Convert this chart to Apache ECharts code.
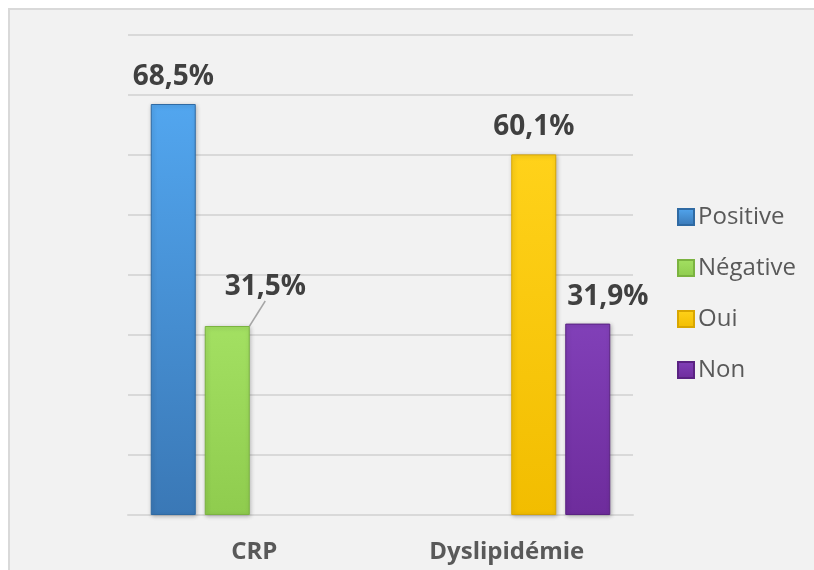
<!DOCTYPE html>
<html>
<head>
<meta charset="utf-8">
<script src="https://cdn.jsdelivr.net/npm/echarts@6/dist/echarts.min.js"></script>
<style>
  html, body { margin: 0; padding: 0; background: #ffffff; }
  #chart { width: 814px; height: 570px; }
</style>
</head>
<body>
<div id="chart"></div>
<script>
// Categories and series values (percentages)
const categories = ['CRP', 'Dyslipidémie'];
const seriesNames = ['Positive', 'Négative', 'Oui', 'Non'];
const positiveValues = [68.5, null];
const negativeValues = [31.5, null];
const ouiValues = [null, 60.1];
const nonValues = [null, 31.9];

const fmt = v => String(v.value).replace('.', ',') + '%';

function grad(top, bottom) {
  return new echarts.graphic.LinearGradient(0, 0, 0, 1, [
    { offset: 0, color: top },
    { offset: 1, color: bottom }
  ]);
}

const labelStyle = {
  show: true,
  position: 'top',
  distance: 13,
  formatter: fmt,
  fontFamily: 'Open Sans',
  fontWeight: 'bold',
  fontSize: 28,
  color: '#404040'
};

function barSeries(name, data, top, bottom, border, extra) {
  return Object.assign({
    name: name,
    type: 'bar',
    data: data,
    barWidth: 45,
    barGap: '20%',
    itemStyle: {
      color: grad(top, bottom),
      borderColor: border,
      borderWidth: 1,
      shadowColor: 'rgba(0,0,0,0.25)',
      shadowBlur: 4,
      shadowOffsetX: 1,
      shadowOffsetY: 1
    },
    label: Object.assign({}, labelStyle)
  }, extra || {});
}

const chart = echarts.init(document.getElementById('chart'), null, { renderer: 'canvas' });

chart.setOption({
  backgroundColor: '#ffffff',
  animation: false,
  graphic: [{
    type: 'rect',
    z: -10,
    silent: true,
    shape: { x: 9, y: 9, width: 830, height: 580 },
    style: { fill: '#f2f2f2', stroke: '#d9d9d9', lineWidth: 2 }
  }],
  grid: { left: 128, right: 181, top: 35, bottom: 55 },
  legend: {
    orient: 'vertical',
    left: 672,
    top: 200,
    itemWidth: 16,
    itemHeight: 16,
    itemGap: 27,
    icon: 'rect',
    textStyle: { fontFamily: 'Open Sans', fontSize: 24, color: '#595959', padding: [0, 0, 0, -1] },
    data: seriesNames
  },
  xAxis: {
    type: 'category',
    data: categories,
    axisLine: { show: true, lineStyle: { color: '#d9d9d9', width: 2 } },
    axisTick: { show: false },
    axisLabel: {
      margin: 25,
      fontFamily: 'Open Sans',
      fontWeight: 'bold',
      fontSize: 24,
      color: '#595959'
    }
  },
  yAxis: {
    type: 'value',
    min: 0,
    max: 80,
    interval: 10,
    axisLabel: { show: false },
    axisLine: { show: false },
    axisTick: { show: false },
    splitLine: { lineStyle: { color: '#d9d9d9', width: 2 } }
  },
  series: [
    barSeries('Positive', positiveValues, '#52a6ef', '#3a78b6', '#2f6aa3'),
    barSeries('Négative', negativeValues, '#a3e062', '#8fcc4e', '#7bb340', {
      labelLayout: { dx: 38, dy: -12 },
      labelLine: { show: true, lineStyle: { color: '#a6a6a6', width: 1.5 } }
    }),
    barSeries('Oui', ouiValues, '#ffd21a', '#f2bd00', '#d9a600'),
    barSeries('Non', nonValues, '#8140b8', '#6e2c9c', '#5a2282', {
      labelLayout: { dx: 20, dy: 0 }
    })
  ]
});
</script>
</body>
</html>
